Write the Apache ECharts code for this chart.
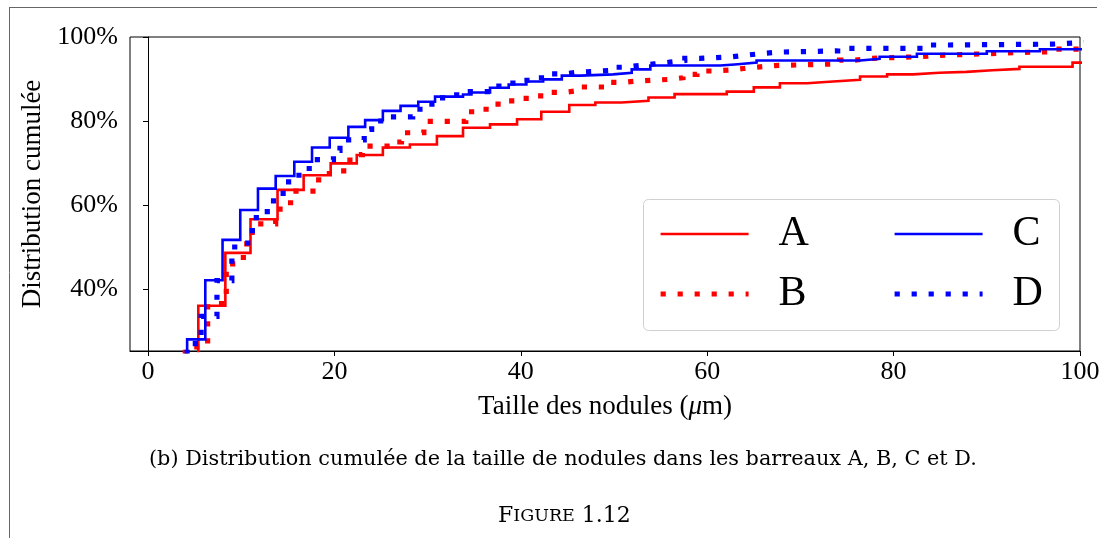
<!DOCTYPE html>
<html>
<head>
<meta charset="utf-8">
<script src="https://cdn.jsdelivr.net/npm/echarts@6/dist/echarts.min.js"></script>
<style>html,body{margin:0;padding:0;background:#fff;}#c{width:1107px;height:538px;}</style>
</head>
<body>
<div id="c"></div>
<script>
// ---- data (sizes in µm, cumulative distribution in %) ----
const seriesNames = ['A', 'B', 'C', 'D'];
const xTicks = [0, 20, 40, 60, 80, 100];
const yTicks = [40, 60, 80, 100];

const sizeA = [5.4,8.3,11.0,13.9,16.7,19.6,22.4,25.2,28.1,31.0,33.8,36.7,39.6,42.2,45.2,48.0,50.8,53.7,56.5,62.1,65.0,67.8,70.7,73.5,76.4,79.3,82.1,84.9,87.8,90.6,93.5,99.2,100.5];
const cumA  = [36.0,48.6,56.6,63.6,67.1,69.9,71.9,73.7,74.4,76.4,78.4,79.2,80.4,82.2,83.8,84.4,84.8,85.6,86.4,87.0,88.0,89.0,89.4,89.8,90.6,91.1,91.5,91.7,92.1,92.4,92.9,93.9,93.9];

const sizeB = [4.0,6.4,8.4,9.5,10.6,11.7,13.7,15.3,17.7,18.9,21.0,22.0,23.0,26.3,27.2,29.6,34.1,35.6,36.9,38.2,39.8,41.5,42.8,44.6,46.0,49.1,50.9,52.4,55.9,57.4,58.9,60.6,62.3,63.9,65.7,67.3,74.2,75.9,77.4,82.8,84.5,89.9,93.4,96.9,100.5];
const cumB  = [26.2,36.5,46,47.5,53.5,55.5,59,63.3,66,67.5,70.7,72,74,75,77.2,79.9,82.2,82.8,84,84.8,85.4,86,86.8,87.2,88.1,89.2,89.5,89.9,90.3,91.1,91.9,92.1,92.5,92.9,93.2,93.6,94.5,94.9,95.3,95.6,96.0,96.3,96.5,97.1,97.1];

const sizeC = [4.2,6.15,8.0,9.9,11.8,13.7,15.7,17.6,19.5,21.5,23.3,25.2,27.1,29.0,30.8,33.8,34.7,36.7,38.7,40.6,42.4,44.4,46.4,49.9,51.9,53.9,61.4,63.3,65.3,76.4,78.5,82.5,90.0,95.7,100.5];
const cumC  = [28.0,42.1,51.7,58.8,63.9,66.9,70.3,73.7,76.0,78.6,80.2,82.4,83.6,84.6,85.8,86.3,86.8,87.9,88.7,89.4,89.9,90.8,91.1,91.5,92.3,93.2,93.5,93.9,94.4,94.8,95.3,96.0,96.6,97.1,97.1];

const sizeD = [4.2,5.7,7.4,9.0,10.7,11.2,12.8,14.5,16.2,17.3,19.9,20.6,23.2,24.0,26.0,28.4,29.7,30.8,32.2,33.8,36.9,38.3,39.8,41.3,42.8,44.5,46.1,49.4,51.0,52.7,54.3,56.0,57.6,59.2,62.7,64.3,66.0,67.7,74.0,83.5,86.0,97.0,100.5];
const cumD  = [27,33.5,42,50,53,57,61,65.5,68,70.8,73,75.5,78,80,81,82.8,84,85.5,86.2,87,88.3,89,89.7,90.3,91.2,91.6,92,92.8,93.2,93.6,94,94.4,94.9,95.3,95.7,96.1,96.4,96.7,97.3,98.1,98.3,98.7,98.7];

const captionText = '(b) Distribution cumulée de la taille de nodules dans les barreaux A, B, C et D.';

// ---- build ----
function steps(xs, ys) {
  const n = Math.min(xs.length, ys.length);
  const out = [[xs[0], 0]]; // start of the ECDF, below the visible range
  for (let i = 0; i < n; i++) out.push([xs[i], ys[i]]);
  return out;
}
const serif = '"Liberation Serif", "DejaVu Serif", serif';
const capFont = '"DejaVu Serif", "Liberation Serif", serif';
const RED = '#ff0000', BLUE = '#0000ff';
const solid = (c) => ({ color: c, width: 2.6, type: 'solid', cap: 'butt', join: 'miter' });
const dotted = (c) => ({ color: c, width: 5.2, type: [5.2, 11.8], cap: 'butt', join: 'miter' });

const chart = echarts.init(document.getElementById('c'), null, { renderer: 'canvas' });
const mk = (name, xs, ys, color, ls) => ({
  name, type: 'line', step: 'end', symbol: 'none', showSymbol: false,
  data: steps(xs, ys), color, lineStyle: ls, clip: true, animation: false,
  emphasis: { disabled: true }
});
const legendText = { fontFamily: serif, fontSize: 42, color: '#000', lineHeight: 40, padding: [0, 0, 0, 25] };
const legendItem = (name, ls) => ({ name, lineStyle: ls, itemStyle: { opacity: 0 } });

const option = {
  animation: false,
  backgroundColor: '#fff',
  grid: { left: 130, top: 37, right: 27, bottom: 187, show: true, borderColor: '#000', borderWidth: 1, backgroundColor: 'transparent' },
  xAxis: {
    type: 'value', min: -1.93, max: 100,
    name: 'Taille des nodules ({i|μ}m)',
    nameLocation: 'middle', nameGap: 42,
    nameTextStyle: { fontFamily: serif, fontSize: 27, color: '#000', rich: { i: { fontFamily: serif, fontStyle: 'italic', fontSize: 27, color: '#000' } } },
    axisLine: { show: true, lineStyle: { color: '#000', width: 1 } },
    axisTick: { show: true, inside: false, length: 5, lineStyle: { color: '#000', width: 1 }, customValues: xTicks },
    axisLabel: { customValues: xTicks, fontFamily: serif, fontSize: 26, color: '#000', margin: 8 },
    splitLine: { show: false }
  },
  yAxis: {
    type: 'value', min: 25.24, max: 100,
    name: 'Distribution cumulée', nameLocation: 'middle', nameRotate: 90, nameGap: 75,
    nameTextStyle: { fontFamily: serif, fontSize: 27, color: '#000' },
    axisLine: { show: true, lineStyle: { color: '#000', width: 1 } },
    axisTick: { show: true, inside: false, length: 5, lineStyle: { color: '#000', width: 1 }, customValues: yTicks },
    axisLabel: { customValues: yTicks, fontFamily: serif, fontSize: 26, color: '#000', margin: 12, formatter: (v) => v + '%' },
    splitLine: { show: false }
  },
  legend: [
    {
      data: [legendItem(seriesNames[0], solid(RED)), legendItem(seriesNames[1], dotted(RED))],
      orient: 'vertical', left: 658, top: 213, padding: 0,
      itemWidth: 88, itemHeight: 14, itemGap: 18, selectedMode: false, z: 6,
      itemStyle: { opacity: 0 },
      textStyle: legendText
    },
    {
      data: [legendItem(seriesNames[2], solid(BLUE)), legendItem(seriesNames[3], dotted(BLUE))],
      orient: 'vertical', left: 892, top: 213, padding: 0,
      itemWidth: 88, itemHeight: 14, itemGap: 18, selectedMode: false, z: 6,
      itemStyle: { opacity: 0 },
      textStyle: legendText
    }
  ],
  graphic: [
    { type: 'line', silent: true, z: 1, shape: { x1: 9.5, y1: 7, x2: 9.5, y2: 538 }, style: { stroke: '#666', lineWidth: 1 } },
    { type: 'line', silent: true, z: 1, shape: { x1: 9, y1: 7.5, x2: 1097, y2: 7.5 }, style: { stroke: '#666', lineWidth: 1 } },
    { type: 'rect', silent: true, z: 5, shape: { x: 643.5, y: 199.5, width: 416, height: 131, r: 5 }, style: { fill: 'rgba(255,255,255,0.8)', stroke: '#d0d0d0', lineWidth: 1 } },
    { type: 'text', silent: true, z: 5, left: 149, top: 449, style: { text: captionText, font: '20.8px ' + capFont, fill: '#000' } },
    { type: 'text', silent: true, z: 5, left: 498, top: 505,
      style: { text: '{a|F}{b|IGURE}{a| 1.12}', fill: '#000', rich: { a: { fontFamily: capFont, fontSize: 22, fill: '#000' }, b: { fontFamily: capFont, fontSize: 17.5, fill: '#000' } } } }
  ],
  series: [
    mk(seriesNames[0], sizeA, cumA, RED, solid(RED)),
    mk(seriesNames[1], sizeB, cumB, RED, dotted(RED)),
    mk(seriesNames[2], sizeC, cumC, BLUE, solid(BLUE)),
    mk(seriesNames[3], sizeD, cumD, BLUE, dotted(BLUE))
  ]
};
chart.setOption(option);
</script>
</body>
</html>
